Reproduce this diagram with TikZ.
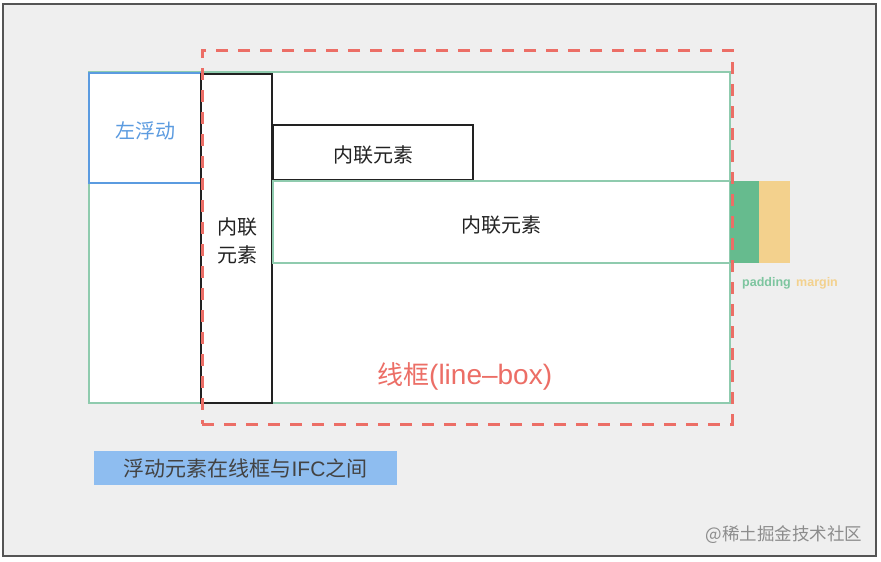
\documentclass[tikz,border=0pt]{standalone}
\usepackage{fontspec}
\setmainfont{Noto Sans CJK SC}
\newfontfamily\cjk{Noto Sans CJK SC}
\newfontfamily\lat{Liberation Sans}
\definecolor{bgc}{HTML}{EFEFEF}
\definecolor{framec}{HTML}{555555}
\definecolor{greenc}{HTML}{8FCBAE}
\definecolor{bluec}{HTML}{5B9BE0}
\definecolor{redc}{HTML}{EC6E66}
\definecolor{padc}{HTML}{66BB8E}
\definecolor{marc}{HTML}{F3D18D}
\definecolor{labelc}{HTML}{8EBDF0}
\definecolor{textc}{HTML}{222222}
\tikzset{
  pbox/.style={inner sep=0pt, outer sep=0pt},
  blk/.style={draw=textc, line width=1.3pt, fill=white},
  ctext/.style={font=\cjk\fontsize{20}{28}\selectfont, text=textc, align=center, yshift=-2.5pt}
}
\begin{document}
\begin{tikzpicture}[x=1pt,y=-1pt]
\useasboundingbox (0,0) rectangle (881,562);
\node[pbox, draw=framec, line width=1.5pt, fill=bgc, minimum width=873pt, minimum height=552pt, anchor=north west] (frame) at (3,4) {};
% line box green
\node[pbox, draw=greenc, line width=1.3pt, fill=white, minimum width=641pt, minimum height=331pt, anchor=north west] (lb) at (89,72) {};
% left float
\node[pbox, draw=bluec, line width=1.3pt, fill=white, minimum width=112pt, minimum height=110pt, anchor=north west] (lf) at (89,73) {};
\node[font=\cjk\fontsize{20}{24}\selectfont, text=bluec, yshift=-2.5pt] (lft) at (lf.center) {左浮动};
% tall inline
\node[pbox, blk, minimum width=71pt, minimum height=329pt, anchor=north west] (ti) at (201,74) {};
\node[ctext] (tit) at (237,238) {内联\\元素};
% small inline
\node[pbox, blk, minimum width=200pt, minimum height=55pt, anchor=north west] (si) at (273,125) {};
\node[ctext] (sit) at (si.center) {内联元素};
% big inline green
\node[pbox, draw=greenc, line width=1.3pt, fill=white, minimum width=457pt, minimum height=82pt, anchor=north west] (bi) at (273,181) {};
\node[ctext] (bit) at (bi.center) {内联元素};
% padding margin
\node[pbox, fill=padc, minimum width=29pt, minimum height=82pt, anchor=north west] (pad) at (730,181) {};
\node[pbox, fill=marc, minimum width=31pt, minimum height=82pt, anchor=north west] (mar) at (759,181) {};
\node[font=\lat\fontsize{12.5}{14}\selectfont\bfseries, text=padc!85, anchor=base west, inner sep=0pt] (padt) at (742,286) {padding};
\node[font=\lat\fontsize{12.5}{14}\selectfont\bfseries, text=marc, anchor=base west, inner sep=0pt] (mart) at (796,286) {margin};
% red dashed
\node[pbox, draw=redc, line width=3pt, dash pattern=on 12pt off 10pt, minimum width=530pt, minimum height=374pt, anchor=north west] (rd) at (202,50) {};
\node[text=redc, anchor=base west, inner sep=0pt] (rdt) at (377,384) {{\cjk\fontsize{26}{30}\selectfont 线框}{\lat\fontsize{28}{32}\selectfont (line–box)}};
% label
\node[pbox, fill=labelc, minimum width=303pt, minimum height=34pt, anchor=north west] (lab) at (94,451) {};
\node[text=textc!85] (labt) at (lab.center) {\cjk\fontsize{21}{24}\selectfont 浮动元素在线框与{\lat IFC}之间};
% watermark
\node[font=\cjk\fontsize{17.5}{20}\selectfont, text=black!45, anchor=east] (wm) at (866,535) {@稀土掘金技术社区};
\end{tikzpicture}
\end{document}
